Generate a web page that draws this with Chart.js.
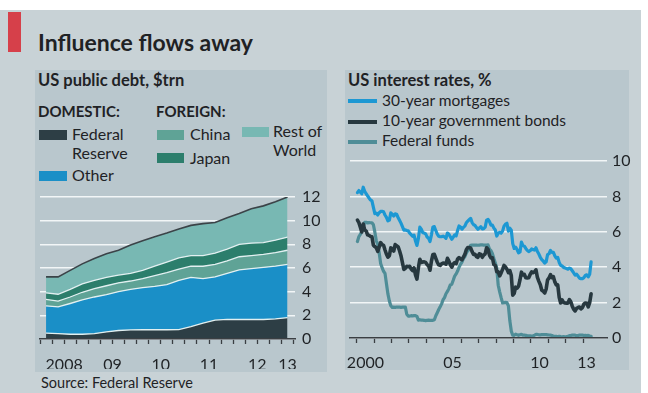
<!DOCTYPE html>
<html>
<head>
<meta charset="utf-8">
<script src="https://cdn.jsdelivr.net/npm/chart.js@4.4.1/dist/chart.umd.min.js"></script>
<style>
  html, body { margin: 0; padding: 0; background: #fff; }
  #page { position: relative; width: 648px; height: 393px; overflow: hidden; background: #fff; font-family: Lato, sans-serif; color: #1f2225; }
  .sheet { position: absolute; left: 0; top: 10px; width: 641px; height: 383px; background: #c8d2d6; }
  .panel { position: absolute; background: #b9c7cd; }
  .redbar { position: absolute; left: 8px; top: 12px; width: 13px; height: 40px; background: #d6404a; }
  canvas { position: absolute; left: 0; top: 0; }
  .t { position: absolute; white-space: nowrap; line-height: 1; }
  .title { font-size: 23px; font-weight: 700; }
  .sub { font-size: 16.5px; font-weight: 700; }
  .head { font-size: 15px; font-weight: 700; }
  .lg { font-size: 16px; }
  .lg2 { font-size: 15.5px; }
  .sw { position: absolute; width: 28px; height: 10px; }
  .ln { position: absolute; width: 29px; height: 4px; }
</style>
</head>
<body>
<div id="page">
  <div class="sheet"></div>
  <div class="panel" style="left:35px; top:70px; width:292px; height:302px;"></div>
  <div class="panel" style="left:345px; top:70px; width:284px; height:300px;"></div>
  <div class="redbar"></div>

  <div class="t title" style="left:38px; top:31px;">Influence flows away</div>

  <!-- debt panel headings and legend -->
  <div class="t sub" style="left:38px; top:72px;">US public debt, $trn</div>
  <div class="t head" style="left:38px; top:104px;">DOMESTIC:</div>
  <div class="t head" style="left:156px; top:104px;">FOREIGN:</div>

  <div class="sw" style="left:39px; top:130px; background:#2d3e45;"></div>
  <div class="t lg" style="left:72px; top:126px;">Federal</div>
  <div class="t lg" style="left:72px; top:145px;">Reserve</div>
  <div class="sw" style="left:39px; top:171px; background:#1a8fc7;"></div>
  <div class="t lg" style="left:72px; top:167px;">Other</div>

  <div class="sw" style="left:157px; top:130px; width:27px; background:#5fa396;"></div>
  <div class="t lg" style="left:190px; top:126px;">China</div>
  <div class="sw" style="left:157px; top:153px; width:27px; background:#2c7e6c;"></div>
  <div class="t lg" style="left:190px; top:150px;">Japan</div>
  <div class="sw" style="left:242px; top:127px; width:27px; background:#78b8b3;"></div>
  <div class="t lg" style="left:273px; top:123px;">Rest of</div>
  <div class="t lg" style="left:273px; top:142px;">World</div>

  <!-- rates panel headings and legend -->
  <div class="t sub" style="left:348px; top:72px;">US interest rates, %</div>
  <div class="ln" style="left:348px; top:99px; background:#1d98d3;"></div>
  <div class="t lg2" style="left:382px; top:93px;">30-year mortgages</div>
  <div class="ln" style="left:348px; top:120px; background:#27383f;"></div>
  <div class="t lg2" style="left:382px; top:113px;">10-year government bonds</div>
  <div class="ln" style="left:348px; top:140px; background:#4f8d97;"></div>
  <div class="t lg2" style="left:382px; top:133px;">Federal funds</div>

  <div class="t" style="left:41px; top:376px; font-size:14.5px;">Source: Federal Reserve</div>

  <canvas id="debtChart" width="648" height="393"></canvas>
  <canvas id="ratesChart" width="648" height="393"></canvas>
</div>

<script>
// ---- US public debt by holder, $trn, quarterly from Q1 2008 ----
const DEBT_START = 2008.125;   // mid-point of first quarter
const FED_RESERVE = [0.5, 0.45, 0.4, 0.4, 0.45, 0.6, 0.72, 0.77, 0.78, 0.78, 0.78, 0.8, 1.05, 1.35, 1.6, 1.65, 1.65, 1.65, 1.65, 1.7, 1.8];
const OTHER       = [2.3, 2.27, 2.6, 2.9, 3.1, 3.15, 3.28, 3.43, 3.57, 3.67, 3.82, 4.15, 4.15, 3.75, 3.65, 3.9, 4.2, 4.3, 4.4, 4.45, 4.5];
const CHINA       = [0.55, 0.48, 0.55, 0.65, 0.7, 0.75, 0.75, 0.7, 0.75, 0.9, 1.0, 0.95, 0.95, 1.05, 1.05, 1.05, 1.1, 1.1, 1.1, 1.15, 1.2];
const JAPAN       = [0.55, 0.58, 0.65, 0.7, 0.7, 0.7, 0.65, 0.65, 0.7, 0.8, 0.9, 0.95, 0.9, 0.9, 0.95, 1.0, 1.05, 1.05, 1.0, 1.05, 1.1];
const REST_WORLD  = [1.35, 1.47, 1.6, 1.7, 1.85, 2.0, 2.1, 2.4, 2.5, 2.5, 2.45, 2.45, 2.55, 2.7, 2.6, 2.65, 2.6, 2.9, 3.1, 3.25, 3.4];

const DEBT_YEAR_LABELS = ['2008', '09', '10', '11', '12', '13'];
const DEBT_LABEL_AT    = [2008.5, 2009.5, 2010.5, 2011.5, 2012.5, 2013.125];
const DEBT_Y_TICKS     = [0, 2, 4, 6, 8, 10, 12];

// ---- US interest rates, %, monthly from Jan 2000 ----
const RATES_START = 2000;
const MORTGAGES = [
  8.21, 8.33, 8.24, 8.15, 8.52, 8.29, 8.15, 8.03, 7.91, 7.80, 7.75, 7.38,
  7.03, 7.05, 6.95, 7.08, 7.15, 7.16, 7.13, 6.95, 6.82, 6.62, 6.66, 7.07,
  7.00, 6.89, 7.01, 6.99, 6.81, 6.65, 6.49, 6.29, 6.09, 6.11, 6.07, 6.05,
  5.92, 5.84, 5.75, 5.81, 5.48, 5.23, 5.63, 6.26, 6.15, 5.95, 5.93, 5.88,
  5.71, 5.64, 5.45, 5.83, 6.27, 6.29, 6.06, 5.87, 5.75, 5.72, 5.73, 5.75,
  5.71, 5.63, 5.93, 5.86, 5.72, 5.58, 5.70, 5.82, 5.77, 6.07, 6.33, 6.27,
  6.15, 6.25, 6.32, 6.51, 6.60, 6.68, 6.76, 6.52, 6.40, 6.36, 6.24, 6.14,
  6.22, 6.29, 6.16, 6.18, 6.26, 6.66, 6.70, 6.57, 6.38, 6.38, 6.21, 6.10,
  5.76, 5.92, 5.97, 5.92, 6.04, 6.32, 6.43, 6.48, 6.04, 6.20, 6.09, 5.33,
  5.06, 5.13, 5.00, 4.81, 4.86, 5.42, 5.22, 5.19, 5.06, 4.95, 4.88, 4.93,
  5.03, 4.99, 4.97, 5.10, 4.89, 4.74, 4.56, 4.43, 4.35, 4.23, 4.30, 4.71,
  4.76, 4.95, 4.84, 4.84, 4.64, 4.51, 4.55, 4.27, 4.11, 4.07, 3.99, 3.96,
  3.92, 3.89, 3.95, 3.91, 3.80, 3.68, 3.55, 3.60, 3.50, 3.38, 3.35, 3.35,
  3.41, 3.53, 3.57, 3.45, 3.60, 4.30
];
const TEN_YEAR = [
  6.66, 6.52, 6.26, 5.99, 6.44, 6.10, 6.05, 5.83, 5.80, 5.74, 5.72, 5.24,
  5.16, 5.10, 4.89, 5.14, 5.39, 5.28, 5.24, 4.97, 4.73, 4.57, 4.65, 5.09,
  5.04, 4.91, 5.28, 5.21, 5.16, 4.93, 4.65, 4.26, 3.87, 3.94, 4.05, 4.03,
  4.05, 3.90, 3.81, 3.96, 3.57, 3.33, 3.98, 4.45, 4.27, 4.29, 4.30, 4.27,
  4.15, 4.08, 3.83, 4.35, 4.72, 4.73, 4.50, 4.28, 4.13, 4.10, 4.19, 4.23,
  4.22, 4.17, 4.50, 4.34, 4.14, 4.00, 4.18, 4.26, 4.20, 4.46, 4.54, 4.47,
  4.42, 4.57, 4.72, 4.99, 5.11, 5.11, 5.09, 4.88, 4.72, 4.73, 4.60, 4.56,
  4.76, 4.72, 4.56, 4.69, 4.75, 5.10, 5.00, 4.67, 4.52, 4.53, 4.15, 4.10,
  3.74, 3.74, 3.51, 3.68, 3.88, 4.10, 4.01, 3.89, 3.69, 3.81, 3.53, 2.42,
  2.52, 2.87, 2.82, 2.93, 3.29, 3.72, 3.56, 3.59, 3.40, 3.39, 3.40, 3.59,
  3.73, 3.69, 3.73, 3.85, 3.42, 3.20, 3.01, 2.70, 2.65, 2.54, 2.76, 3.29,
  3.39, 3.58, 3.41, 3.46, 3.17, 3.00, 3.00, 2.30, 1.98, 2.15, 2.01, 1.98,
  1.97, 1.97, 2.17, 2.05, 1.80, 1.62, 1.53, 1.68, 1.72, 1.75, 1.65, 1.72,
  1.91, 1.98, 1.96, 1.76, 2.00, 2.50
];
const FED_FUNDS = [
  5.45, 5.73, 5.85, 6.02, 6.27, 6.53, 6.54, 6.50, 6.52, 6.51, 6.51, 6.40,
  5.98, 5.49, 5.31, 4.80, 4.21, 3.97, 3.77, 3.65, 3.07, 2.49, 2.09, 1.82,
  1.73, 1.74, 1.73, 1.75, 1.75, 1.75, 1.73, 1.74, 1.75, 1.75, 1.34, 1.24,
  1.24, 1.26, 1.25, 1.26, 1.26, 1.22, 1.01, 1.03, 1.01, 1.01, 1.00, 0.98,
  1.00, 1.01, 1.00, 1.00, 1.00, 1.03, 1.26, 1.43, 1.61, 1.76, 1.93, 2.16,
  2.28, 2.50, 2.63, 2.79, 3.00, 3.04, 3.26, 3.50, 3.62, 3.78, 4.00, 4.16,
  4.29, 4.49, 4.59, 4.79, 4.94, 4.99, 5.24, 5.25, 5.25, 5.25, 5.25, 5.24,
  5.25, 5.26, 5.26, 5.25, 5.25, 5.25, 5.26, 5.02, 4.94, 4.76, 4.49, 4.24,
  3.94, 2.98, 2.61, 2.28, 1.98, 2.00, 2.01, 2.00, 1.81, 0.97, 0.39, 0.16,
  0.15, 0.22, 0.18, 0.15, 0.18, 0.21, 0.16, 0.16, 0.15, 0.12, 0.12, 0.12,
  0.11, 0.13, 0.16, 0.20, 0.20, 0.18, 0.18, 0.19, 0.19, 0.19, 0.19, 0.18,
  0.17, 0.16, 0.14, 0.10, 0.09, 0.09, 0.07, 0.10, 0.08, 0.07, 0.08, 0.07,
  0.08, 0.10, 0.13, 0.14, 0.16, 0.16, 0.16, 0.13, 0.14, 0.16, 0.16, 0.16,
  0.14, 0.15, 0.14, 0.15, 0.11, 0.09
];

const RATES_YEAR_LABELS = ['2000', '05', '10', '13'];
const RATES_LABEL_AT    = [2000.5, 2005.5, 2010.5, 2013.2];
const RATES_Y_TICKS     = [0, 2, 4, 6, 8, 10];

// ---- shared styling ----
Chart.defaults.font.family = 'Lato, sans-serif';
Chart.defaults.color = '#1f2225';
const INK = '#3a3f43';
const GRID = '#f2f6f7';
const TICK_FONT = { size: 16 };

const near = (a, b) => Math.abs(a - b) < 1e-6;

function toPoints(values, start, step) {
    return values.map((v, i) => ({ x: start + i * step, y: v }));
}

function labelFor(value, at, labels) {
    const k = at.findIndex(p => near(p, value));
    return k >= 0 ? labels[k] : '';
}

// ============ DEBT (stacked areas) ============
const quarterTicks = [];
for (let q = 2008; q <= 2013.25 + 1e-9; q += 0.25) quarterTicks.push(q);
const debtTickValues = quarterTicks.concat(DEBT_LABEL_AT.filter(v => !quarterTicks.some(q => near(q, v))))
    .sort((a, b) => a - b);

function areaSet(label, values, color, fill, border) {
    return {
        label: label,
        data: toPoints(values, DEBT_START, 0.25),
        backgroundColor: color,
        borderColor: border || '#e2f0f1',
        borderWidth: border ? 1.6 : 1.3,
        fill: fill,
        pointRadius: 0,
        tension: 0
    };
}

new Chart(document.getElementById('debtChart'), {
    type: 'line',
    data: {
        datasets: [
            areaSet('Federal Reserve', FED_RESERVE, '#2d3e45', 'origin'),
            areaSet('Other', OTHER, '#1a8fc7', '-1'),
            areaSet('China', CHINA, '#5fa396', '-1'),
            areaSet('Japan', JAPAN, '#2c7e6c', '-1'),
            areaSet('Rest of World', REST_WORLD, '#78b8b3', '-1', '#3b4348')
        ]
    },
    options: {
        responsive: false,
        animation: false,
        layout: { padding: { left: 40, top: 197, right: 323, bottom: 24 } },
        plugins: { legend: { display: false }, tooltip: { enabled: false } },
        scales: {
            x: {
                type: 'linear',
                min: 2008,
                max: 2013.28,
                afterBuildTicks: axis => { axis.ticks = debtTickValues.map(v => ({ value: v })); },
                afterFit: s => { s.height = 30; },
                ticks: {
                    autoSkip: false, maxRotation: 0, padding: 11, font: TICK_FONT,
                    callback: v => labelFor(v, DEBT_LABEL_AT, DEBT_YEAR_LABELS)
                },
                grid: {
                    drawOnChartArea: false, tickLength: 5, tickWidth: 1.3,
                    tickColor: ctx => (ctx.tick && quarterTicks.some(q => near(q, ctx.tick.value))) ? INK : 'transparent'
                },
                border: { color: INK, width: 1.6, z: 1 }
            },
            y: {
                position: 'right',
                stacked: true,
                min: 0,
                max: 12,
                afterBuildTicks: axis => { axis.ticks = DEBT_Y_TICKS.map(v => ({ value: v })); },
                afterFit: s => { s.width = 30; },
                ticks: { padding: 7, font: TICK_FONT },
                grid: { color: GRID, lineWidth: 1.6, drawTicks: false },
                border: { display: false }
            }
        }
    }
});

// ============ INTEREST RATES (lines) ============
const yearTicks = [];
for (let y = 2000; y <= 2013; y++) yearTicks.push(y);
const ratesTickValues = yearTicks.concat(RATES_LABEL_AT).sort((a, b) => a - b);

function lineSet(label, values, color, width) {
    return {
        label: label,
        data: toPoints(values, RATES_START + 1 / 24, 1 / 12),
        borderColor: color,
        borderWidth: width,
        borderJoinStyle: 'round',
        borderCapStyle: 'round',
        pointRadius: 0,
        tension: 0,
        fill: false
    };
}

new Chart(document.getElementById('ratesChart'), {
    type: 'line',
    data: {
        datasets: [
            lineSet('30-year mortgages', MORTGAGES, '#1d98d3', 3.2),
            lineSet('10-year government bonds', TEN_YEAR, '#27383f', 3.6),
            lineSet('Federal funds', FED_FUNDS, '#4f8d97', 3.2)
        ]
    },
    options: {
        responsive: false,
        animation: false,
        layout: { padding: { left: 350, top: 161, right: 11, bottom: 25 } },
        plugins: { legend: { display: false }, tooltip: { enabled: false } },
        scales: {
            x: {
                type: 'linear',
                min: 1999.615,
                max: 2014.37,
                afterBuildTicks: axis => { axis.ticks = ratesTickValues.map(v => ({ value: v })); },
                afterFit: s => { s.height = 30; },
                ticks: {
                    autoSkip: false, maxRotation: 0, padding: 10, font: TICK_FONT,
                    callback: v => labelFor(v, RATES_LABEL_AT, RATES_YEAR_LABELS)
                },
                grid: {
                    drawOnChartArea: false, tickLength: 5, tickWidth: 1.3,
                    tickColor: ctx => (ctx.tick && Number.isInteger(ctx.tick.value)) ? INK : 'transparent'
                },
                border: { color: INK, width: 1.6, z: 1 }
            },
            y: {
                position: 'right',
                min: 0,
                max: 10,
                afterBuildTicks: axis => { axis.ticks = RATES_Y_TICKS.map(v => ({ value: v })); },
                afterFit: s => { s.width = 30; },
                ticks: { padding: 5, font: TICK_FONT },
                grid: { color: GRID, lineWidth: 1.6, drawTicks: false },
                border: { display: false }
            }
        }
    }
});
</script>
</body>
</html>
